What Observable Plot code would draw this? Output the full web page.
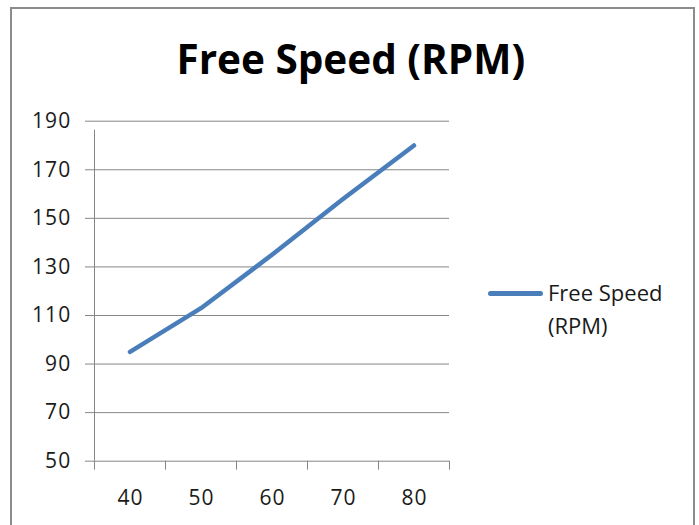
<!DOCTYPE html>
<html>
<head>
<meta charset="utf-8">
<script src="https://cdn.jsdelivr.net/npm/d3@7"></script>
<script src="https://cdn.jsdelivr.net/npm/@observablehq/plot@0.6"></script>
<style>
  html, body { margin: 0; padding: 0; background: #fff; }
  #wrap { position: relative; width: 699px; height: 525px; overflow: hidden; font-family: "Open Sans", sans-serif; }
  #frame { position: absolute; left: 10px; top: 7px; width: 681px; height: 540px; border: 2px solid #8c8c8c; box-sizing: content-box; }
  #chart { position: absolute; left: 0; top: 0; }
  #chart svg text { font-size: 21px !important; font-family: "Open Sans", sans-serif !important; letter-spacing: 1.2px; }
  #title { position: absolute; left: 0; top: 38.5px; width: 701.6px; text-align: center; font-weight: 700; font-size: 40.5px; line-height: 40px; color: #000; white-space: nowrap; }
  #legend { position: absolute; left: 488px; top: 276px; }
  #swatch { position: absolute; left: 0; top: 14.5px; width: 55px; height: 5px; border-radius: 2.5px; background: #4a7ebb; }
  #ltext { position: absolute; left: 60px; top: 0; font-size: 22px; line-height: 33px; color: #1a1a1a; white-space: nowrap; }
</style>
</head>
<body>
<div id="wrap">
  <div id="frame"></div>
  <div id="chart"></div>
  <div id="title">Free Speed (RPM)</div>
  <div id="legend"><div id="swatch"></div><div id="ltext">Free Speed<br>(RPM)</div></div>
</div>
<script>
const categories = [40, 50, 60, 70, 80];
const freeSpeed = [95, 113, 135, 158, 180];
const yTicks = [50, 70, 90, 110, 130, 150, 170, 190];
const seriesName = "Free Speed (RPM)";

const data = categories.map((c, i) => ({x: c, y: freeSpeed[i]}));
const half = (categories[1] - categories[0]) / 2;
const boundaries = [categories[0] - half, ...categories.map(c => c + half)];
const gridColor = "#868686";

const chart = Plot.plot({
  width: 699,
  height: 525,
  marginLeft: 94,
  marginRight: 250,
  marginTop: 120.7,
  marginBottom: 64.3,
  style: {fontFamily: "'Open Sans', sans-serif", fontSize: "21px", color: "#1a1a1a", background: "transparent", overflow: "visible"},
  x: {domain: [boundaries[0], boundaries[boundaries.length - 1]]},
  y: {domain: [yTicks[0], yTicks[yTicks.length - 1]]},
  marks: [
    Plot.gridY(yTicks, {stroke: gridColor, strokeOpacity: 1, strokeWidth: 1}),
    Plot.ruleX([boundaries[0]], {y1: yTicks[0], y2: yTicks[yTicks.length - 1], stroke: gridColor, strokeWidth: 1, insetBottom: -9}),
    Plot.axisY(yTicks, {tickSize: 9, tickPadding: 14, stroke: gridColor, label: null, fill: "#1a1a1a"}),
    Plot.axisX(boundaries, {tickSize: 9, tickFormat: () => "", stroke: gridColor, label: null}),
    Plot.axisX(categories, {tickSize: 0, tickPadding: 28.5, dx: 0.6, label: null, fill: "#1a1a1a"}),
    Plot.line(data, {x: "x", y: "y", stroke: "#4a7ebb", strokeWidth: 4.5, strokeLinecap: "round", strokeLinejoin: "round", title: () => seriesName})
  ]
});
document.getElementById("chart").appendChild(chart);
</script>
</body>
</html>
